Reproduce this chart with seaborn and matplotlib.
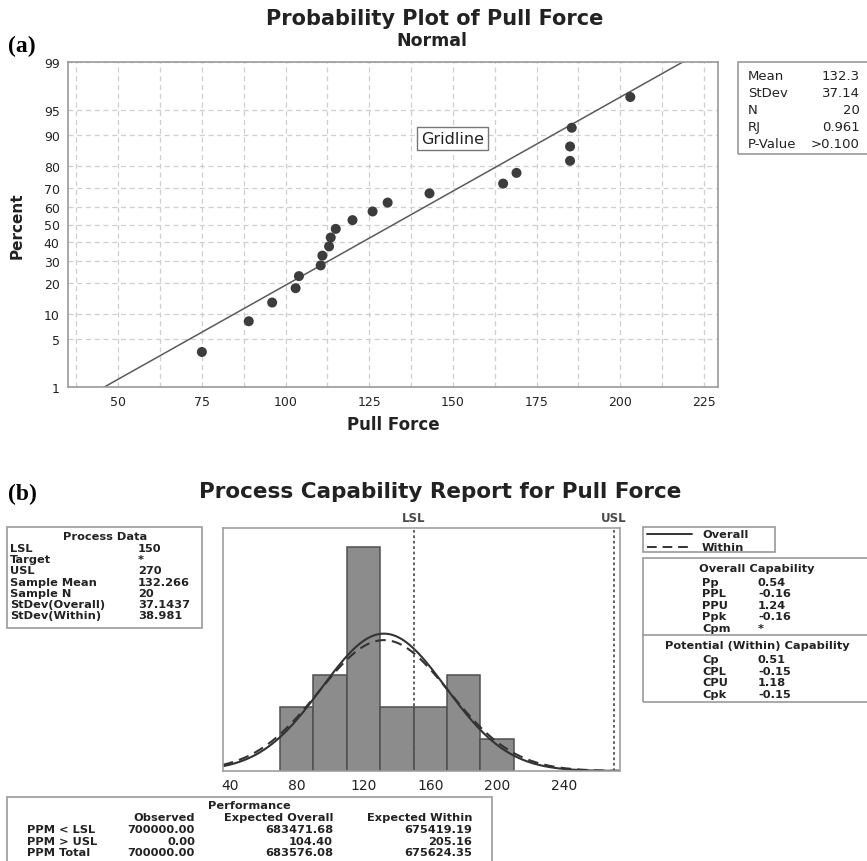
import statistics
import numpy as np
import matplotlib
matplotlib.use("Agg")
import matplotlib.pyplot as plt
from matplotlib.patches import Rectangle
from matplotlib.lines import Line2D
import seaborn as sns

# Pull force data
pull_force = [75, 89, 96, 103, 104, 110.5, 111, 113, 113.5, 115,
              120, 126, 130.5, 143, 165, 169, 185, 185, 185.5, 203]
percent = [3.4, 8.3, 13.2, 18.1, 23.0, 27.9, 32.8, 37.7, 42.6, 47.5,
           52.5, 57.4, 62.3, 67.2, 72.1, 77.0, 81.9, 86.8, 91.7, 96.6]
percent_ticks = [1, 5, 10, 20, 30, 40, 50, 60, 70, 80, 90, 95, 99]

# summary stats
mean_val = 132.266
sd_overall = 37.1437
sd_within = 38.981
lsl, usl = 150, 270
bin_edges = [70, 90, 110, 130, 150, 170, 190, 210]

stats_labels = ["Mean", "StDev", "N", "RJ", "P-Value"]
stats_values = ["132.3", "37.14", "20", "0.961", ">0.100"]

process_labels = ["LSL", "Target", "USL", "Sample Mean", "Sample N",
                  "StDev(Overall)", "StDev(Within)"]
process_values = ["150", "*", "270", "132.266", "20", "37.1437", "38.981"]

overall_labels = ["Pp", "PPL", "PPU", "Ppk", "Cpm"]
overall_values = ["0.54", "-0.16", "1.24", "-0.16", "*"]
within_labels = ["Cp", "CPL", "CPU", "Cpk"]
within_values = ["0.51", "-0.15", "1.18", "-0.15"]

perf_rows = ["PPM < LSL", "PPM > USL", "PPM Total"]
perf_observed = ["700000.00", "0.00", "700000.00"]
perf_exp_overall = ["683471.68", "104.40", "683576.08"]
perf_exp_within = ["675419.19", "205.16", "675624.35"]

sns.set_style("white")
plt.rcParams["font.family"] = ["DejaVu Sans"]
TXT = "#222222"

W, H = 867, 862
fig = plt.figure(figsize=(W / 100, H / 100), dpi=100)


def fx(x):
    return x / W


def fy(y):
    return 1 - y / H


def ftext(x, y, s, **kw):
    kw.setdefault("va", "center")
    kw.setdefault("color", TXT)
    fig.text(fx(x), fy(y), s, **kw)


def fbox(x0, y0, x1, y1, ec="#9a9a9a"):
    fig.add_artist(Rectangle((fx(x0), fy(y1)), fx(x1) - fx(x0), fy(y0) - fy(y1),
                             transform=fig.transFigure, fill=False, ec=ec, lw=1.2))


# ---------------- (a) probability plot ----------------
nd = statistics.NormalDist()
_inv = np.vectorize(lambda v: nd.inv_cdf(v / 100.0), otypes=[float])
_cdf = np.vectorize(lambda v: nd.cdf(v) * 100.0, otypes=[float])


def to_z(p):
    p = np.clip(np.asarray(p, dtype=float), 1e-6, 100 - 1e-6)
    return _inv(p)


def from_z(z):
    return _cdf(np.asarray(z, dtype=float))


ax1 = fig.add_axes([fx(68), fy(388), fx(718) - fx(68), fy(63) - fy(388)])
ax1.set_yscale("function", functions=(to_z, from_z))
ax1.set_xlim(35, 229.2)
ax1.set_ylim(1, 99)

fit_pct = [0.05, 99.95]
fit_x = [mean_val + sd_overall * nd.inv_cdf(p / 100) for p in fit_pct]
sns.lineplot(x=fit_x, y=fit_pct, ax=ax1, color="#5a5a5a", lw=1.1, sort=False)
sns.scatterplot(x=pull_force, y=percent, ax=ax1, color="#3c3c3c", s=52,
                edgecolor="none", zorder=3)

ax1.set_yticks(percent_ticks)
ax1.set_yticklabels([str(p) for p in percent_ticks])
ax1.set_yticks([], minor=True)
ax1.set_xticks([50, 75, 100, 125, 150, 175, 200, 225])
ax1.set_xticks(np.arange(37.5, 229, 12.5), minor=True)
ax1.grid(True, which="both", axis="x", ls=(0, (4, 3)), color="#cfcfcf", lw=0.9)
ax1.grid(True, which="major", axis="y", ls=(0, (4, 3)), color="#cfcfcf", lw=0.9)
ax1.tick_params(axis="both", which="both", direction="out", length=3,
                color="#9a9a9a", labelsize=9, labelcolor=TXT, pad=3)
ax1.tick_params(axis="y", which="minor", length=0)
for sp in ax1.spines.values():
    sp.set_color("#9a9a9a")
    sp.set_linewidth(1.2)
ax1.set_xlabel("Pull Force", fontsize=12, fontweight="bold", color=TXT, va="top")
ax1.set_ylabel("Percent", fontsize=11, fontweight="bold", color=TXT, va="center")
ax1.xaxis.set_label_coords(0.5, -0.085)
ax1.yaxis.set_label_coords(-0.078, 0.5)
ax1.text(150, 89, "Gridline", ha="center", va="center", fontsize=11.5, color=TXT,
         bbox=dict(boxstyle="square,pad=0.25", fc="white", ec="#777777", lw=1))

ftext(435, 19, "Probability Plot of Pull Force", ha="center", fontsize=15,
      fontweight="bold")
ftext(432, 41, "Normal", ha="center", fontsize=12.5, fontweight="bold")
ftext(8, 46, "(a)", ha="left", fontsize=17, fontweight="bold",
      family="Liberation Serif", color="black")

fbox(738, 63, 880, 155)
for i, (lab, val) in enumerate(zip(stats_labels, stats_values)):
    yy = 77 + i * 16.8
    ftext(748, yy, lab, ha="left", fontsize=9.5)
    ftext(860, yy, val, ha="right", fontsize=9.5)

# ---------------- (b) capability histogram ----------------
ax2 = fig.add_axes([fx(223), fy(772), fx(620) - fx(223), fy(529) - fy(772)])
sns.histplot(x=pull_force, bins=bin_edges, ax=ax2, color="#8c8c8c",
             edgecolor="#4f4f4f", linewidth=1.1, alpha=1)

xs = np.linspace(36, 273.5, 300)
n = len(pull_force)
bw = bin_edges[1] - bin_edges[0]
pdf_o = statistics.NormalDist(mean_val, sd_overall)
pdf_w = statistics.NormalDist(mean_val, sd_within)
y_over = [n * bw * pdf_o.pdf(v) for v in xs]
y_with = [n * bw * pdf_w.pdf(v) for v in xs]
sns.lineplot(x=xs, y=y_over, ax=ax2, color="#333333", lw=1.5)
sns.lineplot(x=xs, y=y_with, ax=ax2, color="#333333", lw=1.5, ls=(0, (5, 3)))

ax2.axvline(lsl, ls=(0, (1.5, 1.5)), color="#555555", lw=1.3)
ax2.axvline(usl, ls=(0, (1.5, 1.5)), color="#555555", lw=1.3)
trans = ax2.get_xaxis_transform()
ax2.text(lsl, 1.015, "LSL", transform=trans, ha="center", va="bottom",
         fontsize=8.5, fontweight="bold", color="#4a4a4a")
ax2.text(usl, 1.015, "USL", transform=trans, ha="center", va="bottom",
         fontsize=8.5, fontweight="bold", color="#4a4a4a")

ax2.set_xlim(36, 273.5)
ax2.set_ylim(0, 7.6)
ax2.set_xticks([40, 80, 120, 160, 200, 240])
ax2.set_xticks(np.arange(60, 273, 40), minor=True)
ax2.set_yticks([])
ax2.set_ylabel("")
ax2.tick_params(axis="x", which="both", direction="out", length=3,
                color="#9a9a9a", labelsize=10, labelcolor=TXT, pad=2)
for sp in ax2.spines.values():
    sp.set_color("#a0a0a0")
    sp.set_linewidth(1.2)

ftext(440, 492, "Process Capability Report for Pull Force", ha="center",
      fontsize=15.5, fontweight="bold")
ftext(8, 494, "(b)", ha="left", fontsize=17, fontweight="bold",
      family="Liberation Serif", color="black")

BS = 8.2  # box text size
BW = "bold"

# Process data box
fbox(7, 528, 202, 629)
ftext(105, 537, "Process Data", ha="center", fontsize=BS, fontweight=BW)
for i, (lab, val) in enumerate(zip(process_labels, process_values)):
    yy = 549 + i * 11.2
    ftext(10, yy, lab, ha="left", fontsize=BS, fontweight=BW)
    ftext(138, yy, val, ha="left", fontsize=BS, fontweight=BW)

# Legend box
fbox(643, 528, 775, 553)
fig.add_artist(Line2D([fx(647), fx(692)], [fy(535), fy(535)], color="#333333",
                      lw=1.4, transform=fig.transFigure))
fig.add_artist(Line2D([fx(647), fx(692)], [fy(548), fy(548)], color="#333333",
                      lw=1.4, ls=(0, (5, 3)), transform=fig.transFigure))
ftext(702, 535, "Overall", ha="left", fontsize=BS, fontweight=BW)
ftext(702, 548, "Within", ha="left", fontsize=BS, fontweight=BW)

# Capability box
fbox(643, 559, 880, 703)
fig.add_artist(Line2D([fx(643), fx(880)], [fy(636), fy(636)], color="#9a9a9a",
                      lw=1.2, transform=fig.transFigure))
ftext(757, 569, "Overall Capability", ha="center", fontsize=BS, fontweight=BW)
for i, (lab, val) in enumerate(zip(overall_labels, overall_values)):
    yy = 582.5 + i * 11.6
    ftext(702, yy, lab, ha="left", fontsize=BS, fontweight=BW)
    ftext(758, yy, val, ha="left", fontsize=BS, fontweight=BW)
ftext(757, 646, "Potential (Within) Capability", ha="center", fontsize=BS,
      fontweight=BW)
for i, (lab, val) in enumerate(zip(within_labels, within_values)):
    yy = 660 + i * 11.6
    ftext(702, yy, lab, ha="left", fontsize=BS, fontweight=BW)
    ftext(758, yy, val, ha="left", fontsize=BS, fontweight=BW)

# Performance box
fbox(7, 798, 492, 875)
ftext(249, 806, "Performance", ha="center", fontsize=BS, fontweight=BW)
ftext(195, 818, "Observed", ha="right", fontsize=BS, fontweight=BW)
ftext(333, 818, "Expected Overall", ha="right", fontsize=BS, fontweight=BW)
ftext(472, 818, "Expected Within", ha="right", fontsize=BS, fontweight=BW)
for i, row in enumerate(perf_rows):
    yy = 830 + i * 11.6
    ftext(27, yy, row, ha="left", fontsize=BS, fontweight=BW)
    ftext(195, yy, perf_observed[i], ha="right", fontsize=BS, fontweight=BW)
    ftext(333, yy, perf_exp_overall[i], ha="right", fontsize=BS, fontweight=BW)
    ftext(472, yy, perf_exp_within[i], ha="right", fontsize=BS, fontweight=BW)

fig.savefig("out.png", dpi=100)
